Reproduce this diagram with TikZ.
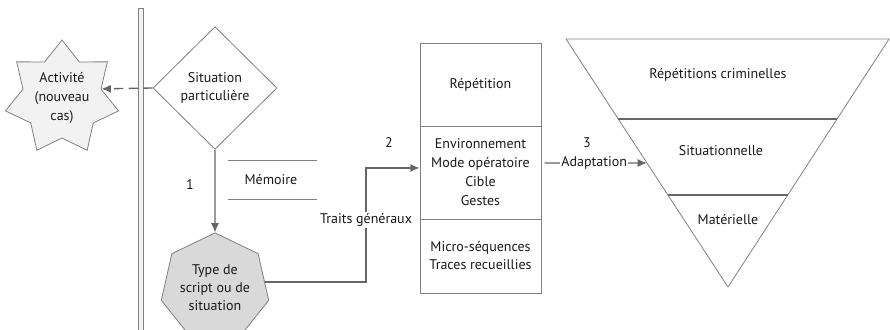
\documentclass[tikz,border=0pt]{standalone}
\usepackage{fontspec}
\setmainfont{PT Sans}
\usetikzlibrary{shapes.geometric,arrows.meta,calc}
\definecolor{linegray}{HTML}{808080}
\definecolor{arrowgray}{HTML}{666666}
\definecolor{lightfill}{HTML}{F2F2F2}
\definecolor{darkfill}{HTML}{D9D9D9}
\tikzset{
  shapeborder/.style={draw=linegray, line width=0.6pt},
  flow/.style={-{Latex[length=7pt,width=6pt]}, draw=arrowgray, line width=1pt},
  onwire/.style={fill=white, inner sep=1pt},
}

\begin{document}
\begin{tikzpicture}[x=0.75pt, y=-0.75pt, font=\fontsize{10.5}{13.5}\selectfont, text=black!90]
\useasboundingbox (0,0) rectangle (890,329);

% double bar
\draw[linegray, fill=lightfill, line width=0.5pt] (138,8) rectangle (143,340);

\node[shapeborder, diamond, minimum width=93pt, minimum height=92pt, inner sep=0pt, align=center] (sit) at (215,88) {Situation\\particulière};
\node[shapeborder, star, star points=7, star point ratio=1.45, minimum size=87pt, inner sep=0pt, fill=lightfill, align=center, font=\fontsize{10.5}{14.25}\selectfont] (act) at (62,98) {Activité\\(nouveau\\cas)};
\node[shapeborder, regular polygon, regular polygon sides=7, minimum size=76.5pt, inner sep=0pt, fill=darkfill, align=center, font=\fontsize{10.5}{13.5}\selectfont] (hep) at (215,288) {Type de\\script ou de\\situation};

\draw[flow, dash pattern=on 7pt off 4pt] (sit.west) -- (act.13);
\draw[flow] (sit.south) -- (hep.north);
\node (n1) at (190,185) {1};

% memoire
\draw[linegray, line width=0.6pt] (228,160) -- (317,160) (228,199) -- (317,199);
\node (mem) at (271,180) {Mémoire};

% stacked box
\node[shapeborder, minimum width=90.75pt, minimum height=62.25pt] (rep) at (480.5,84.5) {Répétition};
\node[shapeborder, minimum width=90.75pt, minimum height=69.75pt, align=center, font=\fontsize{10.5}{14.25}\selectfont] (env) at (480.5,172.5) {Environnement\\Mode opératoire\\Cible\\Gestes};
\node[shapeborder, minimum width=90.75pt, minimum height=55.5pt, align=center] (mic) at (480.5,256) {Micro-séquences\\Traces recueillies};

\draw[flow] (hep.7) -| (366,220) node[onwire] (trait) {Traits généraux} |- ([yshift=3.4pt]env.west);
\node (n2) at (389,143) {2};

% inverted triangle
\coordinate (tl) at (566,39);
\coordinate (tr) at (889,39);
\coordinate (tbot) at (728,287);
\draw[shapeborder] (tl) -- (tr) -- (tbot) -- cycle;
\draw[arrowgray, line width=0.8pt] ($(tl)!80/248!(tbot)$) -- ($(tr)!80/248!(tbot)$);
\draw[arrowgray, line width=0.8pt] ($(tl)!156/248!(tbot)$) -- ($(tr)!156/248!(tbot)$);
\node (crim) at (718,75) {Répétitions criminelles};
\node (sitn) at (721,151) {Situationnelle};
\node (mat) at (728,220) {Matérielle};

\draw[flow, shorten <=2.5pt] ([yshift=7.1pt]env.east) -- node[onwire] (adapt) {Adaptation} ($(tl)!0.5!(tbot)$);
\node (n3) at (587,143) {3};

\end{tikzpicture}
\end{document}
